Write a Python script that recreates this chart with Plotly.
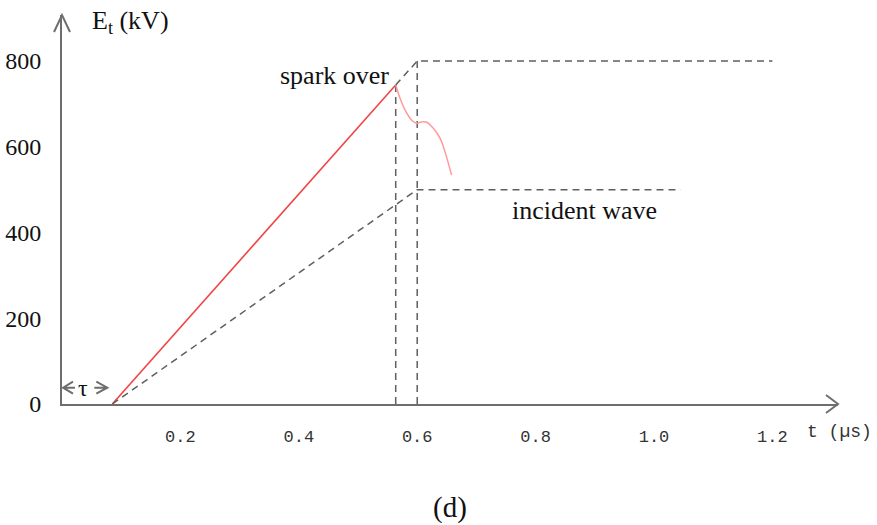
import plotly.graph_objects as go

# ---- data ----
tau = 0.085                      # µs, start of the wave
t_spark, E_spark = 0.5637, 744   # spark-over point
t_front = 0.6                    # end of wave front (µs)
E_incident = 500                 # incident wave crest (kV)
E_double = 800                   # doubled (reflected) crest (kV)
t_incident_end = 1.045
t_double_end = 1.2

osc_t = [0.5637, 0.571, 0.5794, 0.5907, 0.5992, 0.6076, 0.616, 0.6272, 0.6385, 0.647, 0.658]
osc_E = [744, 713, 686, 662, 655, 658, 657, 643, 620, 588, 534]

x_ticks = [0.2, 0.4, 0.6, 0.8, 1.0, 1.2]
x_ticktext = ["0.2", "0.4", "0.6", "0.8", "1.0", "1.2"]
y_ticks = [0, 200, 400, 600, 800]

GREY = "#5f5f5f"
DASH = "7px,5px"
SERIF = "Liberation Serif"
MONO = "Liberation Mono"

fig = go.Figure()

# red wave up to spark over
fig.add_trace(go.Scatter(x=[tau, t_spark], y=[0, E_spark], mode="lines",
                         line=dict(color="#f04545", width=1.6), hoverinfo="skip"))
# incident wave
fig.add_trace(go.Scatter(x=[tau, t_front, t_incident_end], y=[0, E_incident, E_incident],
                         mode="lines", line=dict(color=GREY, width=1.5, dash=DASH), hoverinfo="skip"))
# doubled wave continuation
fig.add_trace(go.Scatter(x=[t_spark, t_front, t_double_end], y=[E_spark, E_double, E_double],
                         mode="lines", line=dict(color=GREY, width=1.5, dash=DASH), hoverinfo="skip"))
# verticals
fig.add_trace(go.Scatter(x=[t_spark, t_spark], y=[0, E_spark], mode="lines",
                         line=dict(color=GREY, width=1.5, dash=DASH), hoverinfo="skip"))
fig.add_trace(go.Scatter(x=[t_front, t_front], y=[0, E_double], mode="lines",
                         line=dict(color=GREY, width=1.5, dash=DASH), hoverinfo="skip"))
# oscillation after spark over
fig.add_trace(go.Scatter(x=osc_t, y=osc_E, mode="lines",
                         line=dict(color="#ff9a9a", width=1.5, shape="spline", smoothing=1.0),
                         hoverinfo="skip"))

AX = "#6e6e6e"
TAU_Y = 38
shapes = [
    # y-axis arrowhead
    dict(type="path", xref="paper", yref="paper", xsizemode="pixel", ysizemode="pixel",
         xanchor=0, yanchor=1, path="M -8,-17 L 0,0 L 8,-17",
         line=dict(color=AX, width=2)),
    # x-axis arrowhead
    dict(type="path", xref="paper", yref="paper", xsizemode="pixel", ysizemode="pixel",
         xanchor=1, yanchor=0, path="M -12,9 L 0,0 L -12,-9",
         line=dict(color=AX, width=2)),
    # tau arrows
    dict(type="path", xref="x", yref="y", xsizemode="pixel", ysizemode="pixel",
         xanchor=0, yanchor=TAU_Y, path="M 11,6 L 1,0 L 11,-6 M 1,0 L 13,0",
         line=dict(color=AX, width=2)),
    dict(type="path", xref="x", yref="y", xsizemode="pixel", ysizemode="pixel",
         xanchor=tau, yanchor=TAU_Y, path="M -16,6 L -5,0 L -16,-6 M -5,0 L -18,0",
         line=dict(color=AX, width=2)),
]

annotations = [
    dict(text="E<sub>t</sub> (kV)", xref="paper", yref="paper", x=0.036, y=0.982,
         xanchor="left", yanchor="middle", showarrow=False,
         font=dict(family=SERIF, size=26, color="#111")),
    dict(text="t (\u00b5s)", xref="paper", yref="paper", x=0.958, y=-0.072,
         xanchor="left", yanchor="middle", showarrow=False,
         font=dict(family=MONO, size=18, color="#333")),
    dict(text="(d)", xref="paper", yref="paper", x=0.5, y=-0.267,
         xanchor="center", yanchor="middle", showarrow=False,
         font=dict(family=SERIF, size=29, color="#111")),
    dict(text="spark over", x=t_spark, y=E_spark, xanchor="right", yanchor="middle",
         xshift=-5, yshift=10, showarrow=False,
         font=dict(family=SERIF, size=26, color="#111")),
    dict(text="incident wave", x=0.882, y=452, xanchor="center", yanchor="middle",
         showarrow=False, font=dict(family=SERIF, size=26, color="#111")),
    dict(text="\u03c4", x=tau / 2, y=TAU_Y, xanchor="center", yanchor="middle",
         xshift=-4, showarrow=False, font=dict(family=SERIF, size=24, color="#111")),
]

fig.update_layout(
    width=877, height=525,
    margin=dict(l=62, r=39, t=15, b=121),
    paper_bgcolor="white", plot_bgcolor="white",
    showlegend=False,
    shapes=shapes, annotations=annotations,
    xaxis=dict(range=[0, 776 / 592], showgrid=False, zeroline=False,
               showline=True, linecolor=AX, linewidth=2, automargin=False,
               tickvals=x_ticks, ticktext=x_ticktext, ticks="",
               ticklabelstandoff=16,
               tickfont=dict(family=MONO, size=17, color="#333")),
    yaxis=dict(range=[0, 389 / 0.42875], showgrid=False, zeroline=False,
               showline=True, linecolor=AX, linewidth=2, automargin=False,
               tickvals=y_ticks, ticks="", ticklabelstandoff=14,
               tickfont=dict(family=SERIF, size=24, color="#111")),
)

fig.write_html("out.html")
